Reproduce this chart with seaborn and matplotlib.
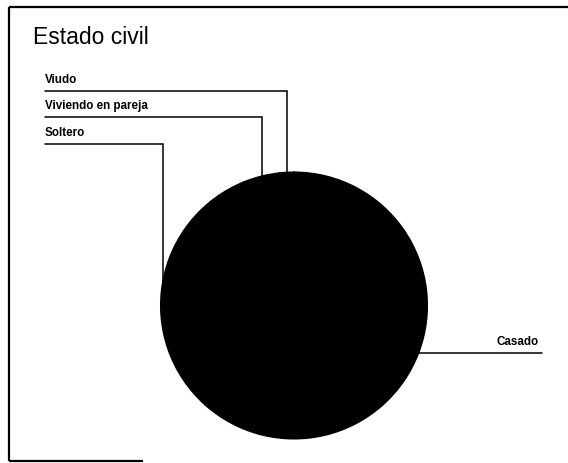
import numpy as np
import matplotlib
matplotlib.use("Agg")
import matplotlib.pyplot as plt
import seaborn as sns

sns.set_theme(style="white")
plt.rcParams['font.family'] = ['Liberation Sans', 'DejaVu Sans']

# Data (estimated shares, %)
categories = ["Viudo", "Viviendo en pareja", "Soltero", "Casado"]
values = [1.7, 4.4, 32.3, 61.6]
title = "Estado civil"

W, H = 568, 463
fig = plt.figure(figsize=(W / 100, H / 100), dpi=100)
ax = fig.add_axes([0, 0, 1, 1])

def py(y):  # pixel-from-top to data y
    return H - y

cx, cy, r = 294, py(305.5), 133
colors = ["black"] * len(values)
wedges, _ = ax.pie(values, colors=colors, startangle=90, counterclock=True,
                   center=(cx, cy), radius=r,
                   wedgeprops=dict(edgecolor="black", linewidth=1.5))
ax.set_xlim(0, W)
ax.set_ylim(0, H)
ax.set_aspect('equal')
ax.axis('off')

# frame lines (scanned border)
ax.plot([9, W], [py(7), py(7)], color="black", lw=1.6, solid_capstyle="butt")
ax.plot([9, 9], [py(7), py(461)], color="black", lw=1.6, solid_capstyle="butt")
ax.plot([9, 143], [py(461), py(461)], color="black", lw=1.6, solid_capstyle="butt")

# title
ax.text(33, py(37), title, fontsize=16.5, ha="left", va="center", color="black")

# leader lines and labels
label_rows = {"Viudo": 91, "Viviendo en pareja": 117, "Soltero": 144}
lw = 1.1
for w, cat in zip(wedges, categories):
    mid = np.deg2rad((w.theta1 + w.theta2) / 2)
    x0 = cx + r * np.cos(mid)
    y0 = cy + r * np.sin(mid)
    if cat in label_rows:
        yl = py(label_rows[cat])
        ax.plot([x0, x0, 45], [y0, yl, yl], color="black", lw=lw,
                solid_joinstyle="miter")
        ax.text(45, yl + 5, cat, fontsize=8.4, fontweight="bold",
                ha="left", va="bottom", color="black")
    else:
        yl = y0
        ax.plot([x0, 542], [yl, yl], color="black", lw=lw)
        ax.text(539, yl + 5, cat, fontsize=8.4, fontweight="bold",
                ha="right", va="bottom", color="black")

fig.savefig("out.png", dpi=100, facecolor="white")
